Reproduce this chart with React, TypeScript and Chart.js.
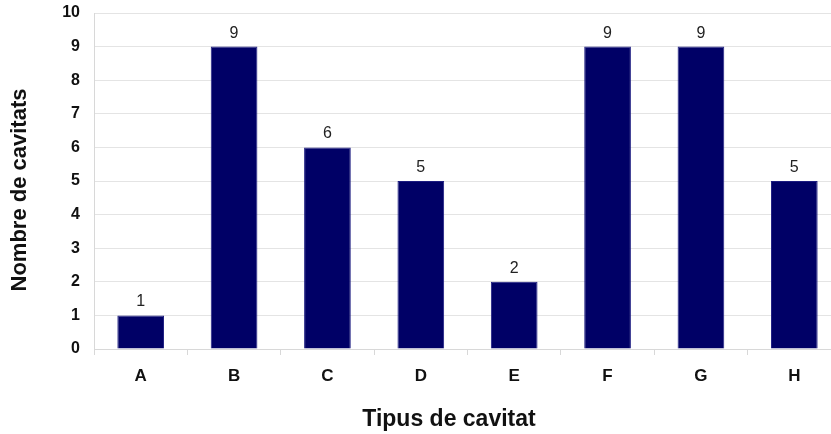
import React, { useEffect, useRef } from "react";
import { Chart, registerables } from "chart.js";

Chart.register(...registerables);

const categories = ["A", "B", "C", "D", "E", "F", "G", "H"];
const values = [1, 9, 6, 5, 2, 9, 9, 5];
const yTitle = "Nombre de cavitats";
const xTitle = "Tipus de cavitat";

const FONT = "Arial, 'Liberation Sans', sans-serif";

const valueLabels = {
  id: "valueLabels",
  afterDatasetsDraw(chart: any) {
    const ctx = chart.ctx;
    const meta = chart.getDatasetMeta(0);
    ctx.save();
    ctx.font = `16px ${FONT}`;
    ctx.fillStyle = "#222";
    ctx.textAlign = "center";
    ctx.textBaseline = "alphabetic";
    meta.data.forEach((bar: any, i: number) => {
      ctx.fillText(String(values[i]), bar.x, bar.y - 9);
    });
    ctx.restore();
  },
};

const axisTitles = {
  id: "axisTitles",
  afterDraw(chart: any) {
    const ctx = chart.ctx;
    const area = chart.chartArea;
    ctx.save();
    ctx.fillStyle = "#111";
    ctx.textAlign = "center";
    ctx.textBaseline = "middle";
    // x title
    ctx.font = `bold 23px ${FONT}`;
    ctx.fillText(xTitle, area.left + 355, area.bottom + 71);
    // y title
    ctx.font = `bold 22px ${FONT}`;
    ctx.translate(area.left - 74, area.top + 177);
    ctx.rotate(-Math.PI / 2);
    ctx.fillText(yTitle, 0, 0);
    ctx.restore();
  },
};

export default function App() {
  const ref = useRef<HTMLCanvasElement>(null);
  useEffect(() => {
    if (!ref.current) return;
    const chart = new Chart(ref.current, {
      type: "bar",
      data: {
        labels: categories,
        datasets: [
          {
            data: values,
            backgroundColor: "#000066",
            borderColor: "#1c1c80",
            borderWidth: 1,
            barPercentage: 0.5,
            categoryPercentage: 1,
          },
        ],
      },
      options: {
        animation: false,
        responsive: true,
        maintainAspectRatio: false,
        layout: { padding: { top: 13, right: 0, left: 0, bottom: 0 } },
        plugins: { legend: { display: false }, tooltip: { enabled: false } },
        scales: {
          x: {
            grid: {
              display: true,
              drawOnChartArea: false,
              drawTicks: true,
              tickLength: 6,
              color: "#d8d8d8",
              offset: true,
            },
            border: { color: "#d8d8d8" },
            ticks: {
              color: "#111",
              font: { family: FONT, size: 17, weight: "bold" },
              padding: 11,
            },
            title: { display: false, text: xTitle },
            afterFit(scale: any) {
              scale.height = 85;
              scale.paddingLeft = 0;
              scale.paddingRight = 0;
            },
          },
          y: {
            min: 0,
            max: 10,
            ticks: {
              stepSize: 1,
              color: "#111",
              font: { family: FONT, size: 16, weight: "bold" },
              padding: 14,
            },
            grid: { color: "#e4e4e4", drawTicks: false },
            border: { color: "#d8d8d8" },
            title: { display: false, text: yTitle },
            afterFit(scale: any) {
              scale.width = 94;
              scale.paddingTop = 0;
              scale.paddingBottom = 0;
            },
          },
        },
      } as any,
      plugins: [valueLabels, axisTitles],
    });
    return () => chart.destroy();
  }, []);
  return (
    <div style={{ position: "absolute", top: 0, left: 0, width: 831, height: 434, overflow: "hidden", background: "#fff" }}>
      <div style={{ position: "relative", width: 841, height: 434 }}>
        <canvas ref={ref} />
      </div>
    </div>
  );
}
